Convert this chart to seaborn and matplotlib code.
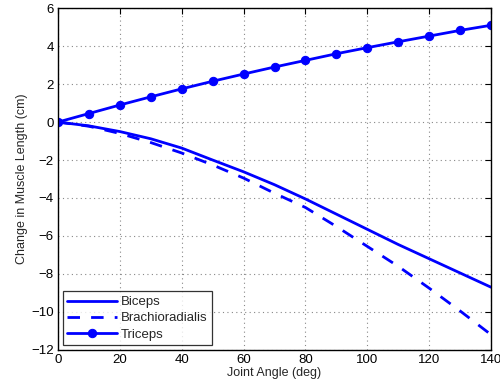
import matplotlib
matplotlib.use("Agg")
import matplotlib.pyplot as plt
import seaborn as sns

angles = [0, 10, 20, 30, 40, 50, 60, 70, 80, 90, 100, 110, 120, 130, 140]
biceps = [0, -0.2, -0.5, -0.88, -1.37, -2.0, -2.62, -3.3, -4.05, -4.85, -5.65, -6.45, -7.2, -7.95, -8.7]
brachioradialis = [0, -0.22, -0.6, -1.08, -1.63, -2.26, -2.95, -3.75, -4.5, -5.5, -6.55, -7.6, -8.75, -9.95, -11.2]
triceps = [0, 0.45, 0.9, 1.33, 1.75, 2.15, 2.53, 2.9, 3.25, 3.6, 3.92, 4.23, 4.53, 4.83, 5.1]

sns.set_style("white")
plt.rcParams['font.family'] = ['Liberation Sans', 'DejaVu Sans']

fig = plt.figure(figsize=(5, 3.9), dpi=100)
ax = fig.add_axes([0.116, 0.103, 0.866, 0.876])

blue = "#0000ff"
sns.lineplot(x=angles, y=biceps, ax=ax, color=blue, linewidth=2, label="Biceps")
sns.lineplot(x=angles, y=brachioradialis, ax=ax, color=blue, linewidth=2, linestyle=(0, (4.5, 4)), label="Brachioradialis")
sns.lineplot(x=angles, y=triceps, ax=ax, color=blue, linewidth=2, marker="o", markersize=6,
             markeredgecolor=blue, label="Triceps")

ax.set_xlim(0, 140)
ax.set_ylim(-12, 6)
ax.set_xticks(range(0, 141, 20))
ax.set_yticks(range(-12, 7, 2))
ax.set_yticklabels([str(v).replace("-", "\u2212") for v in range(-12, 7, 2)])
ax.grid(True, linestyle=(0, (1, 3)), color="#888888", linewidth=0.8)
for s in ax.spines.values():
    s.set_color("black")
    s.set_linewidth(1)
ax.tick_params(direction="in", top=True, right=True, length=4, width=0.8, labelsize=9.5, colors="black", pad=3)
ax.set_xlabel("Joint Angle (deg)", fontsize=9, labelpad=1)
ax.set_ylabel("Change in Muscle Length (cm)", fontsize=9, labelpad=2)

leg = ax.legend(loc="lower left", fontsize=9.5, frameon=True, fancybox=False, edgecolor="black",
                borderpad=0.35, labelspacing=0.3, handlelength=3.8, handletextpad=0.25,
                borderaxespad=0.35)
leg.get_frame().set_linewidth(0.9)

fig.savefig("out.png", dpi=100)
